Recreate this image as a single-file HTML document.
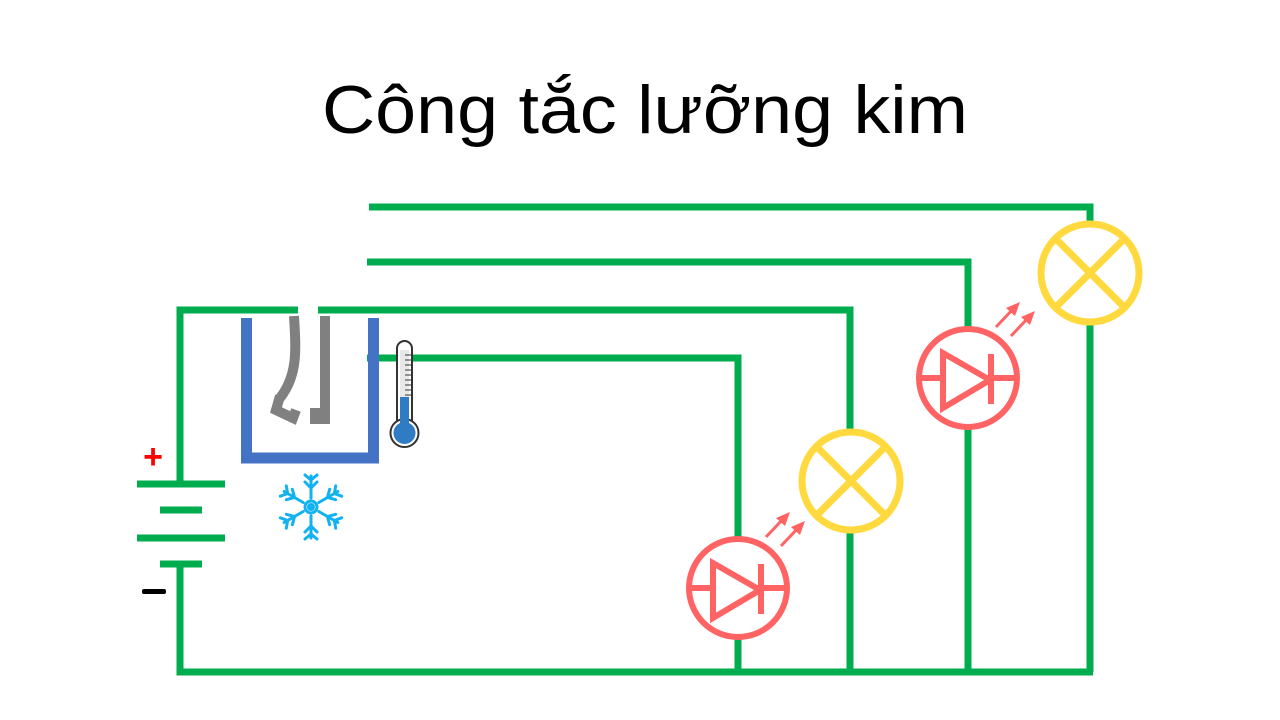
<!DOCTYPE html>
<html><head><meta charset="utf-8"><style>html,body{margin:0;padding:0;background:#fff;width:1280px;height:720px;overflow:hidden}</style></head>
<body>
<svg width="1280" height="720" viewBox="0 0 1280 720" xmlns="http://www.w3.org/2000/svg">
<text x="322" y="133" font-family="Liberation Sans, DejaVu Sans, sans-serif" font-size="68" fill="#000" textLength="646" lengthAdjust="spacingAndGlyphs">Công tắc lưỡng kim</text>
<g stroke="#00AD4E" stroke-width="7" fill="none" stroke-linecap="butt">
<polyline points="298,310 180,310 180,484"/>
<polyline points="318,310 850,310 850,672"/>
<polyline points="367,358 738,358 738,672"/>
<polyline points="369,207 1090,207 1090,672"/>
<polyline points="367,262 968,262 968,672"/>
<polyline points="180,564 180,672 1093,672"/>
<line x1="137" y1="484" x2="225" y2="484"/>
<line x1="160" y1="510" x2="202" y2="510"/>
<line x1="137" y1="538" x2="225" y2="538"/>
<line x1="160" y1="564" x2="202" y2="564"/>
</g>
<text x="153" y="468" font-family="Liberation Sans, sans-serif" font-size="34" font-weight="bold" fill="#f00" text-anchor="middle">+</text>
<rect x="142" y="589" width="24" height="5" rx="2" fill="#000"/>
<!-- blue box -->
<path d="M246.5,318 V458 H373.5 V318" stroke="#4472C4" stroke-width="11" fill="none"/>
<!-- bimetal strips -->
<path d="M294,316 C296,350 298,375 280,398 L280,398" stroke="#808080" stroke-width="10" fill="none"/>
<path d="M280,396 L276,410 L293,418 L296,410" stroke="#808080" stroke-width="10" fill="none" stroke-linejoin="miter"/>
<path d="M325,316 V424" stroke="#808080" stroke-width="10" fill="none"/>
<rect x="310" y="408" width="18" height="16" fill="#808080"/>
<!-- thermometer -->
<rect x="397" y="341" width="15" height="88" rx="7.5" fill="#fff" stroke="#333" stroke-width="2"/>
<circle cx="404.5" cy="433" r="14" fill="#fff" stroke="#333" stroke-width="2"/>
<rect x="400" y="397" width="9" height="36" fill="#2F7BC4"/>
<rect x="400" y="350" width="9" height="47" fill="#e8e8e8"/>
<circle cx="404.5" cy="433" r="11" fill="#2F7BC4"/>
<g stroke="#333" stroke-width="1">
<line x1="405" y1="355" x2="411" y2="355"/><line x1="405" y1="360" x2="411" y2="360"/><line x1="405" y1="365" x2="411" y2="365"/><line x1="405" y1="370" x2="411" y2="370"/><line x1="405" y1="375" x2="411" y2="375"/><line x1="405" y1="380" x2="411" y2="380"/><line x1="405" y1="385" x2="411" y2="385"/><line x1="405" y1="390" x2="411" y2="390"/><line x1="405" y1="395" x2="411" y2="395"/>
</g>
<!-- snowflake -->
<g transform="translate(311,507)" stroke="#12B2F0" stroke-width="3" fill="none" stroke-linecap="round">
<circle r="6"/><circle r="2.5" fill="#12B2F0"/>
<g id="arm"><line x1="0" y1="-9" x2="0" y2="-31"/><polyline points="-6,-25 0,-19 6,-25"/><polyline points="-6,-32 0,-27 6,-32"/></g>
<use href="#arm" transform="rotate(60)"/><use href="#arm" transform="rotate(120)"/><use href="#arm" transform="rotate(180)"/><use href="#arm" transform="rotate(240)"/><use href="#arm" transform="rotate(300)"/>
</g>
<!-- lamps -->
<g stroke="#FFD93D" stroke-width="7" fill="#fff">
<circle cx="851" cy="481" r="49"/>
<line x1="817" y1="447" x2="885" y2="515"/><line x1="885" y1="447" x2="817" y2="515"/>
<circle cx="1090" cy="273" r="49"/>
<line x1="1056" y1="239" x2="1124" y2="307"/><line x1="1124" y1="239" x2="1056" y2="307"/>
</g>
<!-- LEDs -->
<g id="led" stroke="#FF6363" stroke-width="6" fill="#fff">
<circle cx="738" cy="588" r="49"/>
<line x1="692" y1="588" x2="713" y2="588" fill="none"/>
<polygon points="713,563 713,618 760,590" fill="none"/>
<line x1="761" y1="564" x2="761" y2="614"/>
<line x1="761" y1="588" x2="784" y2="588"/>
<g stroke-width="3"><line x1="766" y1="537" x2="784" y2="518"/><line x1="781" y1="546" x2="799" y2="527"/></g>
<g fill="#FF6363" stroke="none"><polygon points="790,512 776,518 785,526"/><polygon points="805,521 791,527 800,535"/></g>
</g>
<use href="#led" transform="translate(230,-210)"/>
</svg>
</body></html>
